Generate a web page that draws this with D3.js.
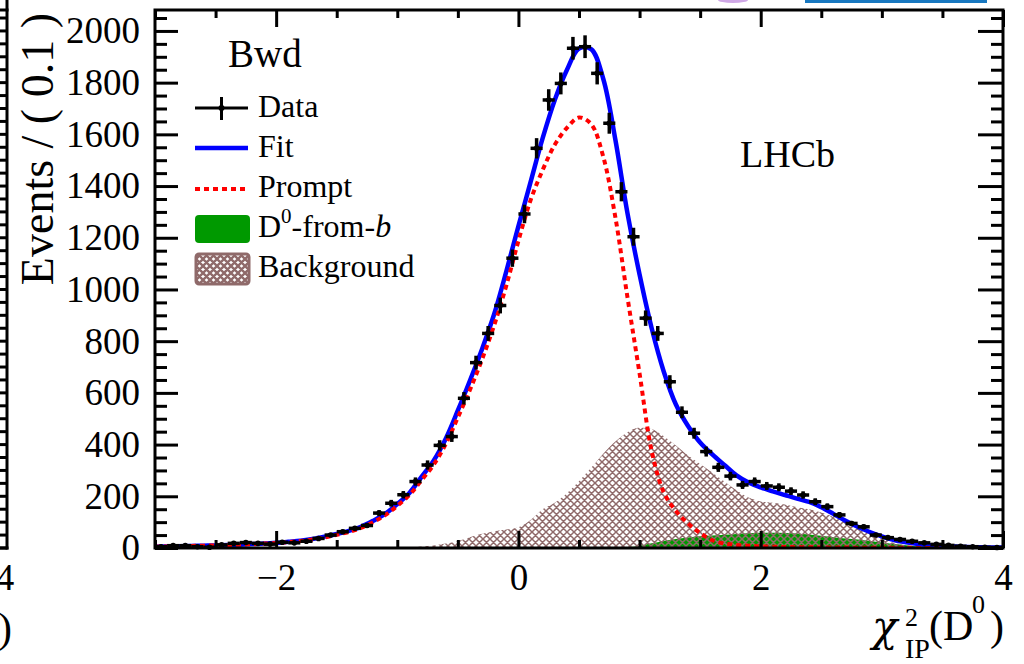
<!DOCTYPE html>
<html>
<head>
<meta charset="utf-8">
<script src="https://cdn.jsdelivr.net/npm/d3@7"></script>
<style>
  html, body { margin: 0; padding: 0; background: #fff; }
  svg { display: block; }
</style>
</head>
<body>
<svg id="chart" width="1024" height="664"></svg>
<script>
// ---- histogram of chi2_IP(D0), Bwd sample, bins of 0.1 from -3 to 4 ----
const binLow = -3;
const binWidth = 0.1;
const counts = [
  5, 9, 9, 5, 3, 12, 18, 21, 18, 15,
  22, 20, 26, 37, 50, 63, 76, 87, 135, 173,
  206, 257, 321, 397, 431, 579, 717, 830, 938, 1121,
  1292, 1546, 1733, 1797, 1933, 1939, 1836, 1643, 1378, 1204,
  889, 830, 643, 525, 444, 373, 312, 278, 244, 257,
  240, 235, 220, 205, 179, 160, 128, 95, 82, 50,
  40, 33, 26, 20, 14, 10, 7, 5, 3, 2
];

// ---- fit components sampled every 0.1 from -3.0 to 4.0 ----
const gridX = d3.range(71).map(i => +(-3 + i * 0.1).toFixed(1));
const fitTotal = [
  5, 6, 7, 8, 9, 10, 12, 13, 15, 17,
  20, 24, 28, 35, 44, 54, 66, 82, 105, 132,
  170, 213, 275, 338, 423, 532, 648, 770, 905, 1070,
  1245, 1415, 1585, 1733, 1849, 1932, 1930, 1815, 1580, 1295,
  1058, 850, 682, 555, 472, 408, 362, 321, 281, 253,
  234, 219, 205, 191, 178, 158, 132, 105, 82, 62,
  45, 31, 22, 15, 11, 8, 6, 4, 3, 2,
  2
];
const fitPrompt = [
  5, 6, 7, 8, 9, 10, 11, 13, 15, 17,
  19, 23, 27, 33, 41, 51, 62, 78, 100, 127,
  163, 205, 262, 322, 402, 505, 612, 730, 862, 1015,
  1188, 1345, 1462, 1560, 1625, 1665, 1640, 1514, 1280, 970,
  675, 375, 215, 143, 95, 58, 30, 17, 12, 9,
  6, 5, 4, 3, 3, 2, 2, 2, 1, 1,
  1, 1, 1, 0, 0, 0, 0, 0, 0, 0,
  0
];
const fitFromB = [
  0, 0, 0, 0, 0, 0, 0, 0, 0, 0,
  0, 0, 0, 0, 0, 0, 0, 0, 0, 0,
  0, 0, 0, 0, 0, 0, 0, 0, 0, 0,
  0, 0, 0, 0, 0, 0, 0, 0, 1, 3,
  8, 18, 27, 35, 41, 45, 48, 51, 54, 57,
  59, 59, 58, 56, 52, 47, 42, 37, 33, 27,
  21, 15, 11, 6, 3, 1, 0, 0, 0, 0,
  0
];
const fitBkg = [
  0, 0, 0, 0, 0, 0, 0, 0, 0, 0,
  0, 0, 0, 0, 0, 0, 0, 0, 0, 0,
  0, 3, 6, 10, 17, 27, 42, 55, 65, 72,
  80, 108, 150, 175, 212, 258, 310, 365, 412, 448,
  466, 460, 432, 396, 358, 325, 292, 257, 223, 195,
  180, 175, 168, 158, 150, 137, 120, 100, 78, 55,
  38, 20, 10, 5, 2, 0, 0, 0, 0, 0,
  0
];

// ---- axis ticks and labels ----
const xMajorTicks = [-2, 0, 2, 4];
const xMinorStep = 0.5;
const yMajorTicks = [0, 200, 400, 600, 800, 1000, 1200, 1400, 1600, 1800, 2000];
const yMinorStep = 50;
const legendLabels = ["Data", "Fit", "Prompt", "D0-from-b", "Background"];

// ---- colours ----
const cBlue = "#0000ff";
const cRed = "#ff0000";
const cGreen = "#009900";
const cHatch = "#8f6a6a";
const serif = "'Liberation Serif', 'Times New Roman', serif";

const svg = d3.select("#chart");
const frame = { left: 155, right: 1003, top: 10, bottom: 548 };
const x = d3.scaleLinear().domain([-3, 4]).range([frame.left, frame.right]);
const y = d3.scaleLinear().domain([0, 2081]).range([frame.bottom, frame.top]);

svg.append("rect").attr("width", 1024).attr("height", 664).attr("fill", "#fff");

// ---- defs: clip and cross-hatch ----
const defs = svg.append("defs");
defs.append("clipPath").attr("id", "plotClip").append("rect")
  .attr("x", frame.left).attr("y", frame.top)
  .attr("width", frame.right - frame.left).attr("height", frame.bottom - frame.top);

function hatch(id, w) {
  const p = defs.append("pattern").attr("id", id)
    .attr("patternUnits", "userSpaceOnUse").attr("width", 7).attr("height", 7);
  p.append("path")
    .attr("d", "M0,0L7,7M7,0L0,7M-1,6L1,8M6,-1L8,1M-1,1L1,-1M6,8L8,6")
    .attr("stroke", cHatch).attr("stroke-width", w).attr("fill", "none");
}
hatch("xhatch", 1.5);
hatch("xhatchLegend", 2.4);

// ---- neighbouring panel edge on the far left, and strips along the top ----
const edge = svg.append("g").attr("stroke", "#000").attr("stroke-width", 3);
edge.append("line").attr("x1", 7).attr("x2", 7).attr("y1", 0).attr("y2", frame.bottom + 1.5);
edge.append("line").attr("x1", 0).attr("x2", 8.5).attr("y1", frame.top).attr("y2", frame.top);
edge.append("line").attr("x1", 0).attr("x2", 8.5).attr("y1", frame.bottom).attr("y2", frame.bottom);
edge.selectAll("line.t").data(d3.range(0, 2081, yMinorStep)).join("line")
  .attr("class", "t").attr("x1", 0).attr("x2", 7)
  .attr("y1", d => y(d)).attr("y2", d => y(d));
svg.append("text").attr("x", 5).attr("y", 590).attr("text-anchor", "middle")
  .attr("font-family", serif).attr("font-size", 37).text("4");
svg.append("text").attr("x", 12).attr("y", 642).attr("text-anchor", "end")
  .attr("font-family", serif).attr("font-size", 42).text(")");
svg.append("ellipse").attr("cx", 733).attr("cy", 0).attr("rx", 15).attr("ry", 3).attr("fill", "#cfa8e6");
svg.append("rect").attr("x", 805).attr("y", 0).attr("width", 182).attr("height", 3).attr("fill", "#1878c0");

// ---- fit components ----
const plot = svg.append("g").attr("clip-path", "url(#plotClip)");
const pts = arr => gridX.map((g, i) => [g, arr[i]]);

const area = d3.area().x(d => x(d[0])).y0(y(0)).y1(d => y(d[1])).curve(d3.curveMonotoneX);
plot.append("path").attr("d", area(pts(fitFromB))).attr("fill", cGreen);
plot.append("path").attr("d", area(pts(fitBkg))).attr("fill", "url(#xhatch)");

// ---- data points with error bars ----
const data = counts.map((c, i) => ({ lo: binLow + i * binWidth, hi: binLow + (i + 1) * binWidth, c }));
const dg = svg.append("g").attr("stroke", "#000").attr("stroke-width", 3.5);
data.forEach(d => {
  const cx = x((d.lo + d.hi) / 2), cy = y(d.c), e = Math.sqrt(d.c);
  dg.append("line").attr("x1", x(d.lo)).attr("x2", x(d.hi)).attr("y1", cy).attr("y2", cy);
  dg.append("line").attr("x1", cx).attr("x2", cx).attr("y1", y(d.c - e)).attr("y2", y(d.c + e));
  dg.append("circle").attr("cx", cx).attr("cy", cy).attr("r", 2.8).attr("fill", "#000").attr("stroke", "none");
});

const line = d3.line().x(d => x(d[0])).y(d => y(d[1])).curve(d3.curveCatmullRom.alpha(0.5));
plot.append("path").attr("d", line(pts(fitTotal))).attr("fill", "none")
  .attr("stroke", cBlue).attr("stroke-width", 4.5);
plot.append("path").attr("d", line(pts(fitPrompt))).attr("fill", "none")
  .attr("stroke", cRed).attr("stroke-width", 4).attr("stroke-dasharray", "5,4");

// ---- axes (ticks pointing inward) ----
function styleAxis(g) {
  g.select(".domain").remove();
  g.selectAll(".tick line").attr("stroke", "#000").attr("stroke-width", 3);
  g.attr("font-family", serif).attr("font-size", 37);
  g.selectAll(".tick text").attr("fill", "#000");
}
const xMinor = d3.range(-3, 4.001, xMinorStep).filter(v => !xMajorTicks.includes(v));
const yMinor = d3.range(0, 2081, yMinorStep).filter(v => v % 200 !== 0);
const intFmt = d3.format("d");

svg.append("g").attr("transform", `translate(${frame.left},0)`)
  .call(d3.axisLeft(y).tickValues(yMajorTicks).tickSizeInner(-23).tickSizeOuter(0).tickPadding(15).tickFormat(intFmt))
  .call(styleAxis);
svg.append("g").attr("transform", `translate(${frame.left},0)`)
  .call(d3.axisLeft(y).tickValues(yMinor).tickSizeInner(-12).tickSizeOuter(0).tickFormat(""))
  .call(styleAxis);
svg.append("g").attr("transform", `translate(${frame.right},0)`)
  .call(d3.axisRight(y).tickValues(yMajorTicks).tickSizeInner(-25).tickSizeOuter(0).tickFormat(""))
  .call(styleAxis);
svg.append("g").attr("transform", `translate(${frame.right},0)`)
  .call(d3.axisRight(y).tickValues(yMinor).tickSizeInner(-12).tickSizeOuter(0).tickFormat(""))
  .call(styleAxis);

svg.append("g").attr("transform", `translate(0,${frame.bottom})`)
  .call(d3.axisBottom(x).tickValues(xMajorTicks).tickSizeInner(-17).tickSizeOuter(0).tickPadding(16).tickFormat(intFmt))
  .call(styleAxis);
svg.append("g").attr("transform", `translate(0,${frame.bottom})`)
  .call(d3.axisBottom(x).tickValues(xMinor).tickSizeInner(-8).tickSizeOuter(0).tickFormat(""))
  .call(styleAxis);
svg.append("g").attr("transform", `translate(0,${frame.top})`)
  .call(d3.axisTop(x).tickValues(xMajorTicks).tickSizeInner(-17).tickSizeOuter(0).tickFormat(""))
  .call(styleAxis);
svg.append("g").attr("transform", `translate(0,${frame.top})`)
  .call(d3.axisTop(x).tickValues(xMinor).tickSizeInner(-8).tickSizeOuter(0).tickFormat(""))
  .call(styleAxis);

svg.append("rect")
  .attr("x", frame.left).attr("y", frame.top)
  .attr("width", frame.right - frame.left).attr("height", frame.bottom - frame.top)
  .attr("fill", "none").attr("stroke", "#000").attr("stroke-width", 3);

// ---- axis titles ----
svg.append("text")
  .attr("transform", "translate(53,13) rotate(-90)")
  .attr("text-anchor", "end").attr("font-family", serif).attr("font-size", 46)
  .text("Events / ( 0.1 )");

const xt = svg.append("g").attr("font-family", serif).attr("fill", "#000");
xt.append("text").attr("x", 872).attr("y", 641).attr("font-size", 42)
  .attr("font-family", "'DejaVu Serif', serif").attr("font-style", "italic").text("χ");
xt.append("text").attr("x", 905).attr("y", 626).attr("font-size", 26).text("2");
xt.append("text").attr("x", 905).attr("y", 658).attr("font-size", 28).text("IP");
xt.append("text").attr("x", 929).attr("y", 640).attr("font-size", 42).text("(D");
xt.append("text").attr("x", 972).attr("y", 613).attr("font-size", 26).text("0");
xt.append("text").attr("x", 990).attr("y", 640).attr("font-size", 42).text(")");

// ---- labels ----
svg.append("text").attr("x", 228).attr("y", 67).attr("font-family", serif).attr("font-size", 39).text("Bwd");
svg.append("text").attr("x", 740).attr("y", 167).attr("font-family", serif).attr("font-size", 38).text("LHCb");

// ---- legend ----
const lg = svg.append("g").attr("font-family", serif).attr("font-size", 32);
const symL = 195, symR = 248, textX = 258;
const rowBase = [117, 157, 197, 237, 277];

lg.append("line").attr("x1", symL).attr("x2", symR).attr("y1", 108).attr("y2", 108).attr("stroke", "#000").attr("stroke-width", 3);
lg.append("line").attr("x1", (symL + symR) / 2).attr("x2", (symL + symR) / 2).attr("y1", 97).attr("y2", 120).attr("stroke", "#000").attr("stroke-width", 3);
lg.append("circle").attr("cx", (symL + symR) / 2).attr("cy", 108).attr("r", 3).attr("fill", "#000");
lg.append("line").attr("x1", symL).attr("x2", symR).attr("y1", 148).attr("y2", 148).attr("stroke", cBlue).attr("stroke-width", 4.5);
lg.append("line").attr("x1", symL).attr("x2", symR).attr("y1", 189).attr("y2", 189).attr("stroke", cRed).attr("stroke-width", 4).attr("stroke-dasharray", "5,4");
lg.append("rect").attr("x", symL).attr("y", 215).attr("width", symR - symL + 2).attr("height", 28).attr("rx", 4).attr("fill", cGreen);
lg.append("rect").attr("x", symL + 1).attr("y", 254).attr("width", symR - symL).attr("height", 30).attr("rx", 3)
  .attr("fill", "url(#xhatchLegend)").attr("stroke", cHatch).attr("stroke-width", 3);

legendLabels.forEach((lab, i) => {
  const t = lg.append("text").attr("x", textX).attr("y", rowBase[i]);
  if (lab === "D0-from-b") {
    t.append("tspan").text("D");
    t.append("tspan").attr("font-size", 21).attr("dy", -14).text("0");
    t.append("tspan").attr("dy", 14).text("-from-");
    t.append("tspan").attr("font-style", "italic").text("b");
  } else {
    t.text(lab);
  }
});
</script>
</body>
</html>
